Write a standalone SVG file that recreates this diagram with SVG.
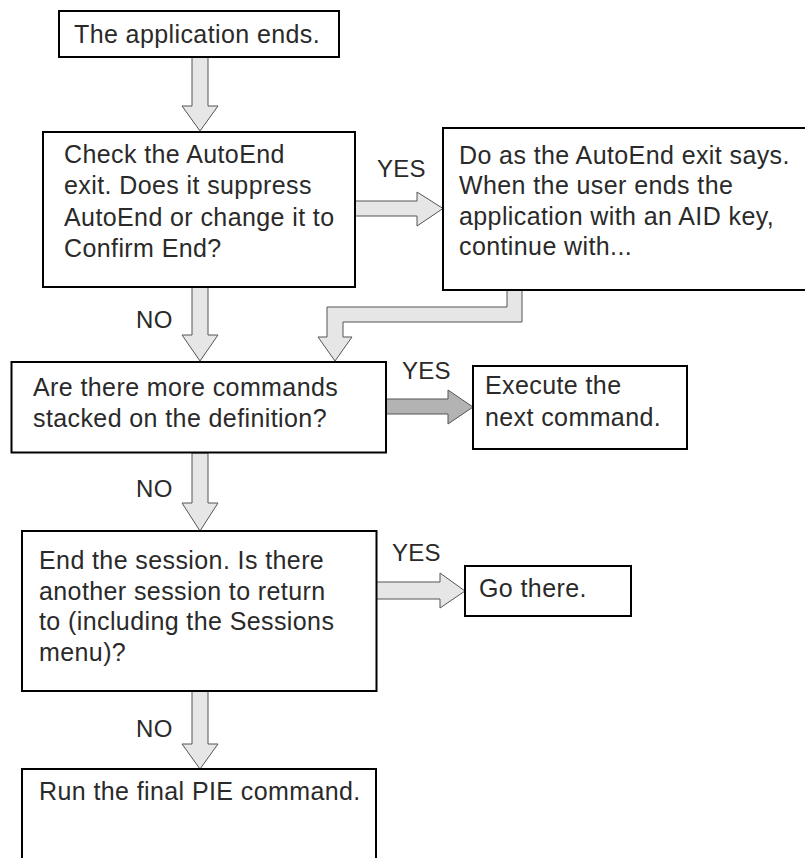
<svg xmlns="http://www.w3.org/2000/svg" width="805" height="858" viewBox="0 0 805 858">
<style>
.box{fill:#fff;stroke:#000;stroke-width:2}
.t{font-family:"Liberation Sans",Arial,sans-serif;font-size:25px;letter-spacing:0.4px;fill:#2a2a2a}
.lbl{font-family:"Liberation Sans",Arial,sans-serif;font-size:24px;letter-spacing:0.3px;fill:#2a2a2a}
.arr{fill:#e6e6e6;stroke:#555;stroke-width:1}
.arrd{fill:#b3b3b3;stroke:#555;stroke-width:1}
</style>
<rect width="805" height="858" fill="#fff"/>
<g id="connectors">
<polygon class="arr" points="192,57 208,57 208,106 218,106 200,131 182,106 192,106"/>
<polygon class="arr" points="355,201 417,201 417,192 443,208.5 417,226 417,216 355,216"/>
<polygon class="arr" points="192,287 208,287 208,335 218,335 200,361 182,335 192,335"/>
<polygon class="arr" points="507,290 522,290 522,322 343,322 343,337 352,337 335,361 318,337 327,337 327,307 507,307"/>
<polygon class="arrd" points="386,399 448,399 448,390 473,407 448,424 448,414 386,414"/>
<polygon class="arr" points="192,453 208,453 208,503 218,503 200,531 182,503 192,503"/>
<polygon class="arr" points="376,582 440,582 440,573 465,591 440,608 440,599 376,599"/>
<polygon class="arr" points="192,691 208,691 208,744 218,744 200,769 182,744 192,744"/>
<text class="lbl" x="377" y="177">YES</text>
<text class="lbl" x="136" y="328">NO</text>
<text class="lbl" x="402" y="379">YES</text>
<text class="lbl" x="136" y="497">NO</text>
<text class="lbl" x="392" y="561">YES</text>
<text class="lbl" x="136" y="737">NO</text>
</g>
<g id="n1">
<rect class="box" x="59" y="11" width="280" height="46"/>
<text class="t" x="74" y="43">The application ends.</text>
</g>
<g id="n2">
<rect class="box" x="43" y="132" width="312" height="155"/>
<text class="t" x="64" y="163">Check the AutoEnd</text>
<text class="t" x="64" y="194">exit. Does it suppress</text>
<text class="t" x="64" y="225.5">AutoEnd or change it to</text>
<text class="t" x="64" y="257">Confirm End?</text>
</g>
<g id="n3">
<rect class="box" x="443" y="128" width="365" height="162"/>
<text class="t" x="459" y="164">Do as the AutoEnd exit says.</text>
<text class="t" x="459" y="194">When the user ends the</text>
<text class="t" x="459" y="224.5">application with an AID key,</text>
<text class="t" x="459" y="255">continue with...</text>
</g>
<g id="n4">
<rect class="box" x="11.5" y="362" width="374.5" height="90.5"/>
<text class="t" x="33" y="396">Are there more commands</text>
<text class="t" x="33" y="427">stacked on the definition?</text>
</g>
<g id="n5">
<rect class="box" x="473" y="366" width="214" height="83"/>
<text class="t" x="485" y="393.5">Execute the</text>
<text class="t" x="485" y="425.5">next command.</text>
</g>
<g id="n6">
<rect class="box" x="22" y="531" width="354.5" height="160"/>
<text class="t" x="39" y="568.5">End the session. Is there</text>
<text class="t" x="39" y="599.5">another session to return</text>
<text class="t" x="39" y="630">to (including the Sessions</text>
<text class="t" x="39" y="660.5">menu)?</text>
</g>
<g id="n7">
<rect class="box" x="465" y="566" width="166" height="50"/>
<text class="t" x="479" y="597">Go there.</text>
</g>
<g id="n8">
<rect class="box" x="22" y="769" width="354" height="110"/>
<text class="t" x="39" y="800">Run the final PIE command.</text>
</g>
</svg>
